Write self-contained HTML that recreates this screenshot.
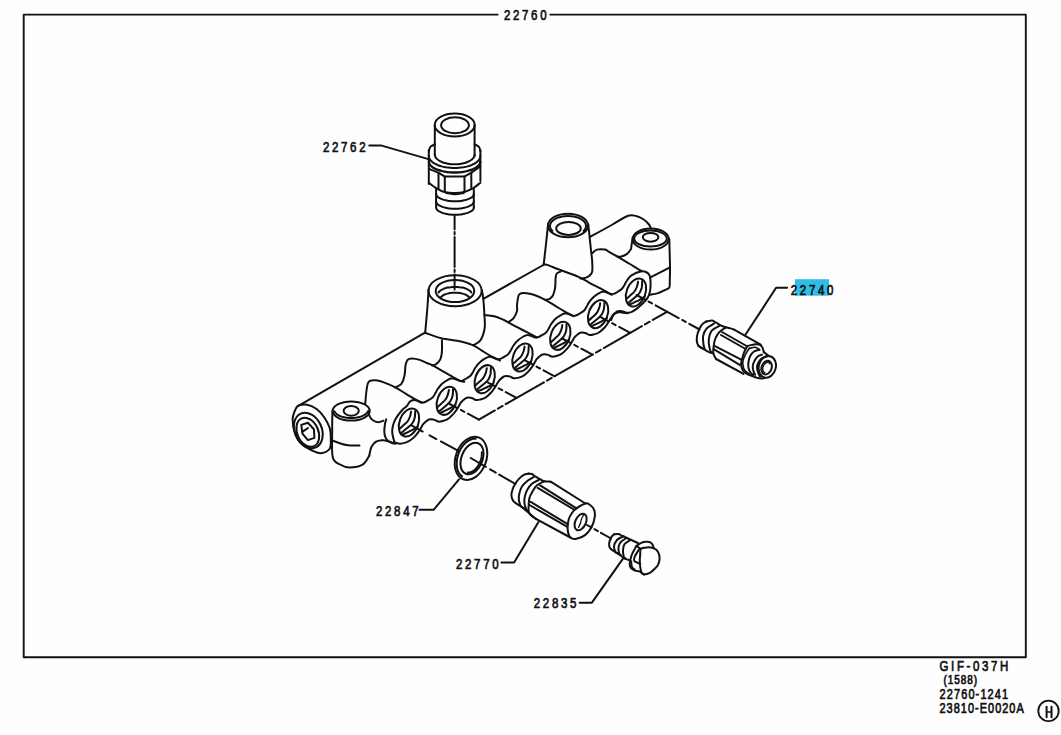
<!DOCTYPE html>
<html><head><meta charset="utf-8">
<style>
html,body{margin:0;padding:0;background:#fefefe;}
body{width:1061px;height:735px;overflow:hidden;position:relative;}
svg{position:absolute;left:0;top:0;}
.t{font-family:"Liberation Sans",sans-serif;font-size:14px;fill:#111;stroke:#111;stroke-width:0.7px;}
.s{font-family:"Liberation Mono",monospace;fill:#111;stroke:#111;stroke-width:0.4px;}
</style></head><body>
<svg width="1061" height="735" viewBox="0 0 1061 735">
<rect x="795" y="279.2" width="34" height="16.5" fill="#30bde8"/>
<g fill="none" stroke="#111" stroke-width="2" stroke-linejoin="round" stroke-linecap="round">
<path d="M497.7 14.6L23.7 14.6L23.7 657.3L1025.8 657.3L1025.8 14.6L550.3 14.6" stroke-width="1.9"/>
<ellipse cx="454.7" cy="125" rx="20" ry="11.4" transform="rotate(0 454.7 125)"/>
<ellipse cx="455" cy="125.2" rx="13.9" ry="8" transform="rotate(0 455 125.2)"/>
<path d="M434.8 125L434.8 155"/>
<path d="M474.6 125L474.6 156"/>
<path d="M474.6 154.5C474.5 154.8 474.5 155.6 474.3 156.2C474.1 156.8 473.8 157.3 473.4 157.9C473 158.4 472.5 158.9 471.9 159.4C471.4 159.9 470.7 160.4 469.9 160.8C469.2 161.2 468.4 161.6 467.5 162C466.6 162.4 465.6 162.7 464.6 163C463.7 163.3 462.6 163.5 461.5 163.7C460.4 163.9 459.3 164.1 458.2 164.2C457 164.2 455.9 164.3 454.7 164.3C453.5 164.3 452.4 164.2 451.2 164.2C450.1 164.1 449 163.9 447.9 163.7C446.8 163.5 445.7 163.3 444.8 163C443.8 162.7 442.8 162.4 441.9 162C441 161.6 440.2 161.2 439.5 160.8C438.7 160.4 438 159.9 437.5 159.4C436.9 158.9 436.4 158.4 436 157.9C435.6 157.3 435.3 156.8 435.1 156.2C434.9 155.6 434.9 154.8 434.8 154.5"/>
<path d="M434.8 144.3C434.1 144.7 431.6 145.6 430.6 146.7C429.6 147.8 429.1 150.3 428.8 151"/>
<path d="M474.6 144.3C475.3 144.7 477.8 145.6 478.8 146.7C479.8 147.8 480.1 150.3 480.4 151"/>
<path d="M428.8 150L428.8 184"/>
<path d="M480.4 150L480.4 181"/>
<path d="M480.4 156C480.3 156.3 480.3 157.4 480 158.1C479.7 158.8 479.4 159.5 478.8 160.1C478.3 160.8 477.7 161.4 476.9 162C476.2 162.6 475.3 163.2 474.4 163.7C473.4 164.2 472.3 164.7 471.2 165.2C470 165.6 468.8 166 467.5 166.4C466.2 166.7 464.8 167 463.4 167.3C462 167.5 460.6 167.7 459.1 167.8C457.6 167.9 456.1 168 454.6 168C453.1 168 451.6 167.9 450.1 167.8C448.6 167.7 447.2 167.5 445.8 167.3C444.4 167 443 166.7 441.7 166.4C440.4 166 439.2 165.6 438 165.2C436.9 164.7 435.8 164.2 434.8 163.7C433.9 163.2 433 162.6 432.3 162C431.5 161.4 430.9 160.8 430.4 160.1C429.8 159.5 429.5 158.8 429.2 158.1C428.9 157.4 428.9 156.3 428.8 156"/>
<path d="M480.3 161.5C480.2 161.8 480.2 162.8 479.9 163.4C479.7 164 479.3 164.7 478.8 165.3C478.2 165.9 477.6 166.4 476.9 167C476.1 167.6 475.2 168.1 474.3 168.6C473.3 169.1 472.3 169.5 471.1 169.9C470 170.3 468.7 170.7 467.5 171C466.2 171.3 464.8 171.6 463.4 171.8C462 172.1 460.5 172.2 459.1 172.3C457.6 172.4 456.1 172.5 454.6 172.5C453.1 172.5 451.6 172.4 450.1 172.3C448.7 172.2 447.2 172.1 445.8 171.8C444.4 171.6 443 171.3 441.8 171C440.5 170.7 439.2 170.3 438.1 169.9C436.9 169.5 435.9 169.1 434.9 168.6C434 168.1 433.1 167.6 432.3 167C431.6 166.4 431 165.9 430.4 165.3C429.9 164.7 429.5 164 429.3 163.4C429 162.8 429 161.8 428.9 161.5" stroke-width="2.3"/>
<path d="M429 168.8L438.8 172.9L444.8 176.6L464.3 176.6L471 172.9L480.3 166.5"/>
<path d="M438.5 172.9L438.5 188.5"/>
<path d="M444.8 176.6L444.8 192"/>
<path d="M464.5 176.6L464.5 191.8"/>
<path d="M471.3 172.9L471.3 188.8"/>
<path d="M428.8 182.7C430 183.6 433.6 186.6 436.2 188.2C438.8 189.8 441.1 191.2 444.3 192C447.5 192.8 451.8 193.2 455.2 193.1C458.6 193 462 192.5 465 191.7C468 190.9 470.6 189.7 473.2 188.2C475.8 186.7 479.2 183.6 480.4 182.7"/>
<path d="M446 193.2C447.5 193.4 452.2 194.6 455.2 194.6C458.2 194.6 462.5 193.4 464 193.2" stroke-width="1.5"/>
<path d="M436.1 188.5L436.1 207.5"/>
<path d="M473.8 188.5L473.8 207.5"/>
<path d="M473.9 194C473.8 194.2 473.8 194.9 473.6 195.3C473.4 195.7 473.1 196.1 472.7 196.5C472.3 196.9 471.9 197.3 471.3 197.7C470.8 198 470.1 198.4 469.4 198.7C468.7 199 468 199.3 467.1 199.6C466.3 199.9 465.4 200.1 464.4 200.3C463.5 200.5 462.5 200.7 461.4 200.9C460.4 201 459.3 201.1 458.3 201.2C457.2 201.3 456.1 201.3 455 201.3C453.9 201.3 452.8 201.3 451.7 201.2C450.7 201.1 449.6 201 448.6 200.9C447.5 200.7 446.5 200.5 445.6 200.3C444.6 200.1 443.7 199.9 442.9 199.6C442 199.3 441.3 199 440.6 198.7C439.9 198.4 439.2 198 438.7 197.7C438.1 197.3 437.7 196.9 437.3 196.5C436.9 196.1 436.6 195.7 436.4 195.3C436.2 194.9 436.2 194.2 436.1 194"/>
<path d="M473.9 201.5C473.8 201.7 473.8 202.4 473.6 202.8C473.4 203.2 473.1 203.6 472.7 204C472.3 204.4 471.9 204.8 471.3 205.2C470.8 205.5 470.1 205.9 469.4 206.2C468.7 206.5 468 206.8 467.1 207.1C466.3 207.4 465.4 207.6 464.4 207.8C463.5 208 462.5 208.2 461.4 208.4C460.4 208.5 459.3 208.6 458.3 208.7C457.2 208.8 456.1 208.8 455 208.8C453.9 208.8 452.8 208.8 451.7 208.7C450.7 208.6 449.6 208.5 448.6 208.4C447.5 208.2 446.5 208 445.6 207.8C444.6 207.6 443.7 207.4 442.9 207.1C442 206.8 441.3 206.5 440.6 206.2C439.9 205.9 439.2 205.5 438.7 205.2C438.1 204.8 437.7 204.4 437.3 204C436.9 203.6 436.6 203.2 436.4 202.8C436.2 202.4 436.2 201.7 436.1 201.5"/>
<path d="M473.9 207.5C473.8 207.7 473.8 208.4 473.6 208.8C473.4 209.2 473.1 209.6 472.7 210C472.3 210.4 471.9 210.8 471.3 211.2C470.8 211.5 470.1 211.9 469.4 212.2C468.7 212.5 468 212.8 467.1 213.1C466.3 213.4 465.4 213.6 464.4 213.8C463.5 214 462.5 214.2 461.4 214.4C460.4 214.5 459.3 214.6 458.3 214.7C457.2 214.8 456.1 214.8 455 214.8C453.9 214.8 452.8 214.8 451.7 214.7C450.7 214.6 449.6 214.5 448.6 214.4C447.5 214.2 446.5 214 445.6 213.8C444.6 213.6 443.7 213.4 442.9 213.1C442 212.8 441.3 212.5 440.6 212.2C439.9 211.9 439.2 211.5 438.7 211.2C438.1 210.8 437.7 210.4 437.3 210C436.9 209.6 436.6 209.2 436.4 208.8C436.2 208.4 436.2 207.7 436.1 207.5"/>
<path d="M454.6 216V289.4" stroke-dasharray="30 2.5 2.5 2.5" stroke-dashoffset="16.5"/>
<path d="M369.3 145.6L381.7 145.6L429.3 159.4"/>
<ellipse cx="455.1" cy="290.7" rx="26.6" ry="15.5" transform="rotate(0 455.1 290.7)"/>
<ellipse cx="455" cy="291" rx="19.3" ry="11" transform="rotate(0 455 291)"/>
<path d="M438.6 292.5C438.7 292.3 439.2 291.7 439.6 291.3C440 290.9 440.5 290.5 441.1 290.1C441.6 289.8 442.3 289.4 443 289.1C443.7 288.8 444.4 288.5 445.2 288.3C446.1 288 446.9 287.8 447.8 287.6C448.7 287.4 449.6 287.3 450.6 287.2C451.6 287 452.5 287 453.5 286.9C454.5 286.9 455.5 286.9 456.5 286.9C457.5 287 458.4 287 459.4 287.2C460.4 287.3 461.3 287.4 462.2 287.6C463.1 287.8 463.9 288 464.8 288.3C465.6 288.5 466.3 288.8 467 289.1C467.7 289.4 468.4 289.8 468.9 290.1C469.5 290.5 470 290.9 470.4 291.3C470.8 291.7 471.3 292.3 471.4 292.5"/>
<path d="M440.9 297.2C441.1 297 441.6 296.4 442 296.1C442.4 295.8 443 295.4 443.5 295.1C444.1 294.8 444.7 294.5 445.4 294.3C446 294 446.7 293.8 447.5 293.6C448.3 293.4 449.1 293.2 449.9 293.1C450.7 293 451.5 292.9 452.4 292.8C453.3 292.7 454.1 292.7 455 292.7C455.9 292.7 456.7 292.7 457.6 292.8C458.5 292.9 459.3 293 460.1 293.1C460.9 293.2 461.7 293.4 462.5 293.6C463.3 293.8 464 294 464.6 294.3C465.3 294.5 465.9 294.8 466.5 295.1C467 295.4 467.6 295.8 468 296.1C468.4 296.4 468.9 297 469.1 297.2"/>
<path d="M428.6 289C428.4 292.5 427.8 302.7 427.2 310C426.6 317.3 425.5 328.9 425.2 332.7"/>
<path d="M481.8 290C482.1 291.5 482.9 294.6 483.3 298.8C483.7 303 484.2 310.1 484.4 315C484.6 319.9 485.4 323.8 484.7 328C484 332.2 482.3 337.5 480.4 340.4C478.4 343.3 474.2 344.5 473 345.3"/>
<path d="M425 332.7C427.7 333.6 435.3 336.8 441.3 338.2C447.3 339.6 455.6 340.2 460.9 341.4C466.2 342.6 469.3 343.6 472.9 345.2C476.5 346.8 479.4 349.2 482.7 351.2C486 353.2 489.6 355.4 492.5 357C495.4 358.6 498.8 359.9 500 360.5"/>
<path d="M299.2 405.3L425 332.7"/>
<path d="M483.3 298.8L544.2 264.5"/>
<path d="M590.5 236.6C594 234.7 605.5 228.5 611.7 225C618 221.5 624 217.3 628 215.8C632 214.3 633.5 215.5 636 216C638.5 216.5 640.8 217.6 643 219C645.2 220.4 647.7 222.9 649 224.5C650.3 226.1 650.7 227.9 651 228.6"/>
<path d="M365.2 403.8C365.4 402 365.8 396.4 366.2 393C366.6 389.6 367.1 385.5 367.8 383.5C368.5 381.5 369 381.3 370.3 380.8C371.6 380.3 373.4 380 375.9 380.3C378.4 380.6 381.9 381.7 385.1 382.9C388.3 384.1 391.8 385.6 395.3 387.4C398.8 389.2 402.4 391.7 406 393.8C409.6 395.9 414.1 398.7 416.7 400.2C419.3 401.7 420.9 402.4 421.8 402.8"/>
<path d="M395.3 387.4C396.3 386.8 399.9 385.8 401.4 383.9C402.9 381.9 403.8 378.8 404.5 375.7C405.2 372.6 405 368.1 405.5 365.5C406 362.9 406.6 361.1 407.6 359.9C408.6 358.7 409.6 358.4 411.6 358.4C413.6 358.4 417.1 359 419.8 359.9C422.5 360.8 425.9 362.6 428 363.5C430.1 364.4 430 364 432.6 365.4C435.2 366.8 439.9 369.5 443.5 371.6C447.1 373.7 451.5 376.3 454.4 377.9C457.3 379.5 459.3 380.5 460.9 381.1C462.5 381.7 463.6 381.6 464.2 381.7"/>
<path d="M441.9 340.3C441.9 342.2 442.2 348.6 441.9 351.8C441.6 355 441.3 357.3 440.3 359.4C439.3 361.5 437.3 363.3 435.9 364.3C434.5 365.3 432.7 365.2 432.1 365.4"/>
<path d="M484.4 315C486 315.2 490.9 315.4 494.1 316.2C497.4 317 501.5 318.9 503.9 320C506.3 321.1 505.5 321 508.6 322.7C511.7 324.4 517.9 327.6 522.6 330C527.3 332.4 534.4 336.1 536.7 337.3"/>
<path d="M508.5 322C509.3 321.4 512 320.2 513.4 318.4C514.8 316.6 516.4 313.2 517 311C517.6 308.8 516.7 307.6 517 305C517.3 302.4 517.9 297.4 518.6 295.5C519.3 293.6 519.9 293.7 521.3 293.3C522.7 292.9 524.6 293 526.8 293.3C529 293.6 531.3 293.9 534.4 295C537.5 296.1 541.7 297.9 545.3 299.8C548.9 301.7 552.4 304.1 556 306.3C559.6 308.5 564.1 311.2 567 312.9C569.9 314.5 572.5 315.6 573.6 316.2"/>
<path d="M560.5 271.6C559.9 271.9 557.6 272.4 556.8 273.5C556 274.6 555.9 275.7 555.6 278.1C555.3 280.5 555.6 285 555.1 287.9C554.6 290.8 553.8 293.7 552.9 295.5C552 297.3 550.9 298.1 549.6 298.8C548.3 299.5 546 299.6 545.3 299.8"/>
<ellipse cx="568" cy="225.5" rx="20" ry="11.8" transform="rotate(0 568 225.5)"/>
<path d="M552.4 231C552.2 230.7 551.4 230 551.1 229.4C550.7 228.9 550.5 228.3 550.3 227.7C550.1 227.2 550 226.6 550 226C550 225.4 550.1 224.8 550.3 224.3C550.5 223.7 550.7 223.1 551.1 222.6C551.4 222 551.9 221.5 552.4 221C552.9 220.5 553.5 220 554.2 219.6C554.9 219.1 555.6 218.7 556.4 218.3C557.2 218 558.1 217.6 559 217.3C559.9 217.1 560.9 216.8 561.8 216.6C562.8 216.4 563.8 216.3 564.9 216.2C565.9 216.1 567 216 568 216C569 216 570.1 216.1 571.1 216.2C572.2 216.3 573.2 216.4 574.2 216.6C575.1 216.8 576.1 217.1 577 217.3C577.9 217.6 578.8 218 579.6 218.3C580.4 218.7 581.1 219.1 581.8 219.6C582.5 220 583.1 220.5 583.6 221C584.1 221.5 584.6 222 584.9 222.6C585.3 223.1 585.5 223.7 585.7 224.3C585.9 224.8 586 225.4 586 226C586 226.6 585.9 227.2 585.7 227.7C585.5 228.3 585.3 228.9 584.9 229.4C584.6 230 583.8 230.7 583.6 231"/>
<ellipse cx="568.5" cy="228.4" rx="12.3" ry="6.5" transform="rotate(0 568.5 228.4)"/>
<path d="M548.1 224C547.8 227.3 546.7 237.3 546 244C545.3 250.7 544.1 260.9 543.7 264.3"/>
<path d="M588.3 224.6C588.7 228.8 590.3 243.6 590.9 249.5C591.5 255.4 591.9 256.4 592.1 260C592.3 263.6 592.7 268.8 592.2 271.4C591.8 274 590.6 274.7 589.4 275.8C588.2 276.9 586.6 277.4 585.1 277.9C583.6 278.4 581.3 278.5 580.5 278.6"/>
<path d="M543.7 264.3C544.2 264.4 544.8 264.2 547 264.9C549.2 265.6 554.4 267.8 556.8 268.7C559.1 269.6 557.5 268.9 561.1 270.3C564.7 271.7 573.8 274.7 578.5 276.8C583.2 278.9 585.3 280.6 589.4 282.8C593.5 285 599.5 287.9 603.2 289.9C606.9 291.9 610.3 294 611.7 294.8"/>
<path d="M592.5 253C593.2 252.4 594.9 250.2 597 249.6C599.1 249 603.1 249.3 605 249.6C606.9 249.9 606.2 250.2 608.1 251.3C610 252.4 613.1 254.2 616.6 256.2C620.1 258.2 624.8 261 629 263.5C633.2 266 639.5 269.8 641.6 271"/>
<path d="M632.6 238C632.4 239.5 631.6 245.1 631.3 247C631 248.9 631.5 248.3 630.7 249.5C629.9 250.7 628.1 253.2 626.4 254.4C624.7 255.6 621.9 256.5 620.3 256.8C618.7 257.1 617.2 256.3 616.6 256.2"/>
<ellipse cx="650.7" cy="239" rx="18" ry="10.6" transform="rotate(0 650.7 239)"/>
<ellipse cx="650.5" cy="238.6" rx="16.3" ry="8" transform="rotate(0 650.5 238.6)"/>
<ellipse cx="650.6" cy="237.3" rx="7.8" ry="4.4" transform="rotate(0 650.6 237.3)"/>
<path d="M669.3 239C669.4 243.6 669.9 259.8 670 266.6C670.1 273.4 669.9 276.5 669.8 280C669.7 283.5 670.1 285.8 669.3 287.5C668.5 289.2 667 289 665 290C663 291 660 292.6 657.4 293.4C654.8 294.2 650.5 294.6 649.1 294.9"/>
<path d="M649.9 277.7L670 267.3"/>
<path d="M394.6 442.6C394.2 441.2 392.9 436.9 392.5 434.5C392.1 432.1 392.1 430.3 392.5 428C392.9 425.7 393.7 423 394.6 420.9C395.5 418.8 396.6 417.2 397.9 415.4C399.2 413.6 400.9 411.5 402.3 410C403.7 408.5 405.2 407.7 406.5 406.3C407.8 404.9 408.8 402.6 410 401.5C411.2 400.4 412.6 400.1 414 400C415.4 399.9 417.4 400.8 418.6 401.2C419.9 401.6 420.5 402.3 421.5 402.5C422.5 402.7 423.3 402.6 424.4 402.2C425.6 401.8 427.2 400.9 428.5 400.1C429.9 399.3 431.5 398.6 432.6 397.4C433.8 396.3 434.5 394.8 435.3 393.3C436.2 391.9 436.7 390.4 437.8 388.8C439 387.2 440.7 385.1 442.3 383.6C444 382.1 446.2 380.7 447.8 379.8C449.4 378.9 450.4 378.4 451.8 378.3C453.3 378.3 455.2 379.1 456.4 379.5C457.7 379.9 458.4 380.7 459.3 380.8C460.3 381 461.1 381 462.3 380.6C463.4 380.2 465 379.3 466.4 378.5C467.7 377.7 469.3 376.9 470.5 375.8C471.6 374.6 472.3 373.1 473.2 371.7C474 370.2 474.5 368.8 475.7 367.2C476.8 365.5 478.5 363.5 480.2 362C481.8 360.5 484.1 359 485.7 358.2C487.2 357.3 488.2 356.7 489.7 356.7C491.1 356.6 493 357.4 494.3 357.9C495.5 358.3 496.2 359 497.2 359.2C498.1 359.3 498.9 359.3 500.1 358.9C501.3 358.5 502.8 357.6 504.2 356.8C505.6 356 507.2 355.2 508.3 354.1C509.4 353 510.1 351.4 511 350C511.9 348.6 512.3 347.1 513.5 345.5C514.7 343.9 516.3 341.8 518 340.3C519.7 338.8 521.9 337.4 523.5 336.5C525.1 335.6 526.1 335 527.5 335C528.9 334.9 530.8 335.8 532.1 336.2C533.3 336.6 534 337.3 535 337.5C536 337.7 536.7 337.6 537.9 337.2C539.1 336.8 540.7 335.9 542 335.1C543.4 334.3 545 333.6 546.1 332.4C547.3 331.3 548 329.8 548.8 328.3C549.7 326.9 550.2 325.4 551.3 323.8C552.5 322.2 554.2 320.1 555.8 318.6C557.5 317.1 559.7 315.7 561.3 314.8C562.9 313.9 563.9 313.4 565.3 313.3C566.8 313.3 568.7 314.1 569.9 314.5C571.2 314.9 571.8 315.6 572.8 315.8C573.8 316 574.6 315.9 575.8 315.5C576.9 315.2 578.5 314.2 579.9 313.4C581.2 312.6 582.8 311.9 583.9 310.8C585.1 309.6 585.8 308.1 586.6 306.6C587.5 305.2 588 303.8 589.1 302.1C590.3 300.5 592 298.4 593.6 296.9C595.3 295.4 597.6 294 599.1 293.1C600.7 292.3 601.7 291.7 603.1 291.6C604.6 291.6 606.5 292.4 607.8 292.8C609 293.3 609.7 294 610.6 294.1C611.6 294.3 612.4 294.3 613.6 293.9C614.8 293.5 616.3 292.6 617.7 291.8C619 291 620.6 290.2 621.8 289.1C622.9 287.9 623.6 286.4 624.5 285C625.3 283.5 625.8 282.1 627 280.5C628.1 278.9 629.2 276.8 631.5 275.3C633.8 273.8 638.3 271.8 640.9 271.4C643.4 270.9 645.4 271.7 646.9 272.5C648.4 273.3 649.3 274.3 649.9 276.2C650.5 278 650.6 281.1 650.6 283.7C650.6 286.3 650.4 289.5 649.9 291.9C649.4 294.2 648.7 296 647.6 297.9C646.4 299.7 644.8 301.3 643.1 303.1C641.3 304.8 639.2 306.9 637.2 308.4C635.2 309.9 633.2 311.3 631.2 312.1C629.2 312.8 627.3 312.9 625.2 312.9C623.1 312.9 619.6 312.2 618.5 312.1"/>
<path d="M618.5 312.1C617.7 312.5 615.2 313.1 614 314.4C612.7 315.7 611.5 319 611 320"/>
<path d="M394.6 442.6C395.5 442.8 398.3 443.7 400.1 443.7C401.9 443.7 403.9 443.1 405.5 442.6C407.1 442.1 408.3 441.6 409.9 440.5C411.5 439.4 413.6 437.7 415.2 436.1C416.8 434.5 417.9 432.7 419.3 430.7C420.7 428.7 421.9 425.7 423.4 423.9C424.9 422.1 426.8 420.6 428.1 419.8C429.4 419 430.1 419.2 431.2 419.2C432.3 419.3 433.5 419.5 434.6 419.9C435.8 420.3 436.9 421.4 438.1 421.6C439.4 421.8 440.5 421.6 442.1 421.2C443.7 420.8 445.8 420.4 447.6 419.2C449.4 418.1 451.4 416.1 453 414.4C454.6 412.7 455.8 411.1 457.1 409C458.5 407 459.8 404 461.2 402.2C462.7 400.4 464.6 398.9 465.9 398.1C467.2 397.4 468 397.5 469.1 397.6C470.1 397.6 471.3 397.9 472.5 398.3C473.6 398.7 474.7 399.7 476 400C477.2 400.2 478.4 400 480 399.6C481.5 399.2 483.6 398.7 485.5 397.6C487.3 396.4 489.3 394.5 490.9 392.8C492.4 391.1 493.6 389.4 495 387.4C496.3 385.3 497.6 382.4 499.1 380.6C500.5 378.7 502.5 377.2 503.8 376.5C505.1 375.7 505.8 375.9 506.9 375.9C508 375.9 509.1 376.2 510.3 376.6C511.4 377 512.5 378.1 513.8 378.3C515 378.5 516.2 378.3 517.8 377.9C519.4 377.5 521.5 377 523.3 375.9C525.1 374.8 527.1 372.8 528.7 371.1C530.3 369.4 531.4 367.7 532.8 365.7C534.2 363.7 535.4 360.7 536.9 358.9C538.4 357.1 540.3 355.6 541.6 354.8C542.9 354 543.6 354.2 544.7 354.2C545.8 354.2 547 354.5 548.1 354.9C549.3 355.3 550.4 356.4 551.6 356.6C552.9 356.8 554 356.6 555.6 356.2C557.2 355.8 559.3 355.4 561.1 354.2C562.9 353.1 564.9 351.1 566.5 349.4C568.1 347.7 569.3 346.1 570.6 344C572 342 573.3 339 574.7 337.2C576.2 335.4 578.1 333.9 579.4 333.1C580.7 332.3 581.5 332.5 582.5 332.5C583.6 332.6 584.8 332.9 585.9 333.2C587.1 333.6 588.2 334.7 589.4 334.9C590.7 335.2 591.9 334.9 593.4 334.5C595 334.1 597.1 333.7 598.9 332.5C600.8 331.4 602.8 329.4 604.4 327.8C605.9 326.1 607.1 324.4 608.4 322.3C609.8 320.3 611.1 317.4 612.5 315.5C614 313.7 615.9 312.2 617.2 311.4C618.6 310.7 619.3 310.9 620.4 310.9C621.5 310.9 622.6 311.2 623.8 311.6C624.9 312 626.7 313 627.3 313.3"/>
<ellipse cx="409" cy="422.5" rx="9.4" ry="14.6" transform="rotate(21 409 422.5)"/>
<path d="M411.1 411.6C410.9 412.4 410.6 414.9 410 416.5C409.4 418.1 408.6 420.1 407.5 421.5C406.4 422.9 405 423.9 403.7 425.1C402.4 426.3 400.4 428 399.8 428.6"/>
<path d="M415.2 411C415.1 412.1 415.2 415.5 414.8 417.5C414.4 419.5 413.6 421.4 412.5 423C411.4 424.6 410.2 425.5 408.4 427.1C406.6 428.7 402.7 431.8 401.6 432.7"/>
<path d="M417.6 426.8C416.8 427.3 414.4 428.8 412.5 429.8C410.6 430.8 408.2 432 406.5 432.8C404.8 433.6 403.2 434.2 402.5 434.5"/>
<ellipse cx="446.8" cy="400.8" rx="9.4" ry="14.6" transform="rotate(21 446.8 400.8)"/>
<path d="M448.9 389.9C448.7 390.7 448.4 393.2 447.8 394.8C447.2 396.5 446.4 398.4 445.3 399.8C444.3 401.3 442.8 402.2 441.5 403.4C440.2 404.6 438.3 406.3 437.6 406.9"/>
<path d="M453 389.3C453 390.4 453.1 393.8 452.6 395.8C452.2 397.8 451.4 399.7 450.3 401.3C449.3 402.9 448 403.8 446.2 405.4C444.4 407 440.6 410.1 439.4 411"/>
<path d="M455.4 405.1C454.6 405.6 452.2 407.1 450.3 408.1C448.5 409.1 446 410.3 444.3 411.1C442.7 411.9 441 412.5 440.3 412.8"/>
<ellipse cx="484.7" cy="379.2" rx="9.4" ry="14.6" transform="rotate(21 484.7 379.2)"/>
<path d="M486.8 368.3C486.6 369.1 486.3 371.5 485.7 373.2C485.1 374.8 484.2 376.7 483.2 378.2C482.1 379.6 480.6 380.6 479.4 381.8C478.1 382.9 476.1 384.7 475.5 385.3"/>
<path d="M490.9 367.7C490.8 368.7 490.9 372.2 490.5 374.2C490 376.2 489.2 378.1 488.2 379.7C487.1 381.3 485.9 382.1 484.1 383.8C482.2 385.4 478.4 388.4 477.3 389.4"/>
<path d="M493.3 383.5C492.4 384 490 385.5 488.2 386.5C486.3 387.5 483.8 388.7 482.2 389.5C480.5 390.2 478.8 390.9 478.2 391.2"/>
<ellipse cx="522.5" cy="357.5" rx="9.4" ry="14.6" transform="rotate(21 522.5 357.5)"/>
<path d="M524.6 346.6C524.4 347.4 524.1 349.8 523.5 351.5C522.9 353.1 522 355.1 521 356.5C519.9 357.9 518.5 358.9 517.2 360.1C515.9 361.3 513.9 363 513.3 363.6"/>
<path d="M528.7 346C528.6 347.1 528.7 350.5 528.3 352.5C527.8 354.5 527.1 356.4 526 358C524.9 359.6 523.7 360.5 521.9 362.1C520.1 363.7 516.2 366.8 515.1 367.7"/>
<path d="M531.1 361.8C530.2 362.3 527.8 363.8 526 364.8C524.1 365.8 521.7 367 520 367.8C518.3 368.6 516.7 369.2 516 369.5"/>
<ellipse cx="560.3" cy="335.8" rx="9.4" ry="14.6" transform="rotate(21 560.3 335.8)"/>
<path d="M562.4 324.9C562.2 325.7 561.9 328.2 561.3 329.8C560.7 331.5 559.9 333.4 558.8 334.8C557.8 336.3 556.3 337.2 555 338.4C553.7 339.6 551.8 341.3 551.1 341.9"/>
<path d="M566.5 324.3C566.5 325.4 566.6 328.8 566.1 330.8C565.7 332.8 564.9 334.7 563.8 336.3C562.8 337.9 561.5 338.8 559.7 340.4C557.9 342 554.1 345.1 552.9 346"/>
<path d="M568.9 340.1C568.1 340.6 565.7 342.1 563.8 343.1C562 344.1 559.5 345.3 557.8 346.1C556.2 346.9 554.5 347.5 553.8 347.8"/>
<ellipse cx="598.1" cy="314.1" rx="9.4" ry="14.6" transform="rotate(21 598.1 314.1)"/>
<path d="M600.2 303.2C600.1 304.1 599.8 306.5 599.1 308.1C598.5 309.8 597.7 311.7 596.6 313.1C595.6 314.6 594.1 315.6 592.9 316.8C591.6 317.9 589.6 319.7 588.9 320.2"/>
<path d="M604.4 302.6C604.3 303.7 604.4 307.1 603.9 309.1C603.5 311.1 602.7 313 601.6 314.6C600.6 316.2 599.4 317.1 597.5 318.8C595.7 320.4 591.9 323.4 590.8 324.3"/>
<path d="M606.8 318.4C605.9 318.9 603.5 320.4 601.6 321.4C599.8 322.4 597.3 323.7 595.6 324.4C594 325.2 592.3 325.9 591.6 326.1"/>
<ellipse cx="636" cy="292.5" rx="9.4" ry="14.6" transform="rotate(21 636 292.5)"/>
<path d="M638.1 281.6C637.9 282.4 637.6 284.8 637 286.5C636.4 288.1 635.5 290 634.5 291.5C633.4 292.9 632 293.9 630.7 295.1C629.4 296.3 627.4 298 626.8 298.6"/>
<path d="M642.2 281C642.1 282.1 642.2 285.5 641.8 287.5C641.3 289.5 640.5 291.4 639.5 293C638.4 294.6 637.2 295.5 635.4 297.1C633.6 298.7 629.7 301.7 628.6 302.7"/>
<path d="M644.6 296.8C643.7 297.3 641.3 298.8 639.5 299.8C637.6 300.8 635.1 302 633.5 302.8C631.8 303.6 630.1 304.2 629.5 304.5"/>
<path d="M299.2 405.3C301.1 404.7 304.4 404.1 307.3 404.7C310.2 405.3 313.8 406.9 316.6 409C319.4 411.1 322 414 324.2 417.2C326.4 420.4 328.6 424.4 329.7 428C330.8 431.6 330.8 435.5 330.8 439C330.8 442.5 331.3 446.4 329.7 448.8C328.1 451.2 323.9 452.9 321 453.2C318.1 453.5 315.3 451.9 312.2 450.5C309.1 449.1 305.2 447.3 302.4 444.5C299.6 441.7 296.9 437.8 295.3 433.6C293.7 429.4 292.5 423.6 292.6 419.4C292.7 415.2 294.8 410.9 295.9 408.5C297 406.1 297.3 405.9 299.2 405.3Z"/>
<ellipse cx="308.3" cy="430.5" rx="13.5" ry="18.5" transform="rotate(-24 308.3 430.5)"/>
<ellipse cx="307.8" cy="432.3" rx="10.5" ry="15.2" transform="rotate(-24 307.8 432.3)"/>
<path d="M301.3 424.9L307.9 422.7L313.9 429.2L314.4 437.9L307.9 440.1L302.4 433.6Z"/>
<path d="M303 431.4L308 428"/>
<ellipse cx="351.2" cy="411" rx="18.5" ry="9.6" transform="rotate(0 351.2 411)"/>
<path d="M367.9 411.4C367.8 411.6 367.5 412.3 367.2 412.7C366.8 413.2 366.4 413.6 365.9 414C365.4 414.4 364.9 414.8 364.2 415.1C363.6 415.5 362.9 415.8 362.1 416.1C361.4 416.4 360.6 416.7 359.7 416.9C358.8 417.2 357.9 417.4 357 417.5C356.1 417.7 355.1 417.8 354.2 417.9C353.2 418 352.2 418 351.2 418C350.2 418 349.2 418 348.2 417.9C347.3 417.8 346.3 417.7 345.4 417.5C344.5 417.4 343.6 417.2 342.7 416.9C341.8 416.7 341 416.4 340.3 416.1C339.5 415.8 338.8 415.5 338.2 415.1C337.5 414.8 337 414.4 336.5 414C336 413.6 335.6 413.2 335.2 412.7C334.9 412.3 334.6 411.6 334.5 411.4"/>
<ellipse cx="351.2" cy="410.8" rx="7.6" ry="4.9" transform="rotate(0 351.2 410.8)"/>
<path d="M332.4 411C332.4 414.2 332.1 422.3 332.2 430C332.2 437.7 331.4 451.2 332.7 457C334 462.8 337.2 462.8 340 464.5C342.8 466.2 345.8 467.4 349.6 467.4C353.4 467.4 359.3 466.5 362.6 464.6C365.9 462.7 368.1 457.3 369.2 455.9"/>
<path d="M369.2 455.9C369.6 454.4 370.2 449.5 371.3 447.2C372.4 444.9 373.9 443 375.7 441.8C377.5 440.6 380.4 440.4 382.2 440.2C384 440 384.8 440.2 386.6 440.7C388.4 441.1 392 442.5 393.1 442.9"/>
<path d="M332.7 440.7C335 441.4 341.9 444.2 346.3 445C350.8 445.8 357.2 445.5 359.4 445.6"/>
<path d="M368.8 411C368.9 411.8 368.6 414.1 369.3 415.6C370 417.2 371.4 419.2 372.9 420.3C374.4 421.4 376.6 422.1 378.3 422.2C380 422.3 382.5 421 383.3 420.8"/>
<path d="M386.2 419.2C386 420.1 385.2 422.6 384.9 424.7C384.6 426.8 384.2 429.7 384.3 431.8C384.4 433.9 384.8 435.7 385.4 437.2C386 438.7 386.9 440 388.1 441C389.3 442 391.2 442.8 392.5 443.2C393.8 443.6 395.2 443.6 395.7 443.7"/>
<path d="M411 425.2L458.8 451.2" stroke-dasharray="13.3 7.8 7.8 5.1 40" stroke-dashoffset="0"/>
<path d="M470.7 458L515.4 484" stroke-dasharray="17.5 5 6.5 4 40" stroke-dashoffset="0"/>
<path d="M587 525L611 538.5" stroke-dasharray="5 3.5 4 3.5 20" stroke-dashoffset="0"/>
<path d="M478.9 419.6L667 311.8" stroke-dasharray="44 3.5 5.5 3.5" stroke-dashoffset="25.6"/>
<path d="M448.8 403.5L478.9 419.6" stroke-dasharray="26.4 4 4 4" stroke-dashoffset="16.8"/>
<path d="M486.7 381.9L516.7 397.9" stroke-dasharray="26.4 4 4 4" stroke-dashoffset="16.8"/>
<path d="M524.5 360.2L554.6 376.3" stroke-dasharray="26.4 4 4 4" stroke-dashoffset="16.8"/>
<path d="M562.3 338.5L592.4 354.6" stroke-dasharray="26.4 4 4 4" stroke-dashoffset="16.8"/>
<path d="M600.1 316.8L630.2 332.9" stroke-dasharray="26.4 4 4 4" stroke-dashoffset="16.8"/>
<path d="M636.6 295L699.6 329.5" stroke-dasharray="26.4 4 4 4" stroke-dashoffset="16.8"/>
<ellipse cx="471" cy="458.3" rx="15.3" ry="22.3" transform="rotate(20 471 458.3)"/>
<path d="M462 476.3C461.7 476 460.7 475.3 460.2 474.7C459.7 474 459.2 473.3 458.7 472.5C458.3 471.8 457.9 470.9 457.6 470C457.4 469.1 457.1 468.1 457 467.1C456.8 466.1 456.7 465 456.7 463.9C456.7 462.8 456.8 461.7 456.9 460.5C457 459.4 457.2 458.3 457.5 457.1C457.8 456 458.1 454.9 458.5 453.8C458.9 452.6 459.4 451.5 459.9 450.5C460.4 449.5 461 448.4 461.6 447.5C462.3 446.6 462.9 445.6 463.6 444.8C464.4 444 465.1 443.2 465.9 442.6C466.7 441.9 467.5 441.3 468.3 440.8C469.1 440.3 469.9 439.8 470.8 439.5C471.6 439.2 472.4 438.9 473.2 438.8C474.1 438.7 475.3 438.7 475.7 438.7"/>
<ellipse cx="472" cy="458.5" rx="10.5" ry="16.5" transform="rotate(22 472 458.5)"/>
<path d="M481.8 452.2C481.8 452.6 481.9 453.7 481.8 454.5C481.8 455.3 481.7 456.1 481.6 456.9C481.4 457.7 481.2 458.5 481 459.4C480.8 460.2 480.5 461 480.2 461.8C479.8 462.6 479.5 463.4 479.1 464.1C478.7 464.9 478.2 465.6 477.8 466.3C477.3 467 476.8 467.6 476.3 468.2C475.8 468.8 475.2 469.4 474.7 469.8C474.1 470.3 473.6 470.8 473 471.1C472.4 471.5 471.8 471.8 471.3 472C470.7 472.3 470.1 472.4 469.6 472.5C469 472.6 468.2 472.6 468 472.6"/>
<path d="M459 479.3L433.6 509.8L419.5 509.8"/>
<path d="M576.5 508.3C578.7 506.8 583.2 504.1 585.4 503.5C587.6 502.9 588.3 503.7 589.8 504.8C591.3 505.9 593.4 508 594.2 510.1C595 512.2 595.1 514.4 594.7 517.2C594.3 520 593.2 524 591.6 526.9C590 529.8 587.9 532.9 585.4 534.9C582.9 536.9 579 538.4 576.5 538.8C574 539.2 571.9 539 570.4 537.5C568.9 536 568 532.6 567.7 529.6C567.4 526.6 567.9 522.6 568.6 519.8C569.3 517 570.8 514.6 572.1 512.7C573.4 510.8 574.3 509.8 576.5 508.3Z"/>
<ellipse cx="580.6" cy="522" rx="5.3" ry="8.8" transform="rotate(25 580.6 522)"/>
<path d="M583.5 515C583.2 515.7 582 517.7 581.5 519C581 520.3 581 521.6 580.5 523C580 524.4 578.8 526.8 578.5 527.5" stroke-width="1.3"/>
<path d="M528.7 473.6C527.9 473.8 525.4 473.9 523.8 474.8C522.2 475.7 520.4 477.3 518.9 478.9C517.4 480.5 515.9 482.7 514.8 484.6C513.7 486.5 512.8 488.4 512.3 490.3C511.7 492.2 511.3 494.2 511.5 496C511.7 497.8 512.2 499.5 513.2 500.9C514.2 502.3 515.9 503.2 517.2 504.2C518.6 505.1 519.5 505.5 521.3 506.6C523.1 507.7 526.8 510 527.9 510.7"/>
<path d="M528.7 473.6C529.2 473.7 530.8 473.5 531.9 474C533 474.5 533.7 475.4 535.2 476.4C536.7 477.3 539.4 478.9 540.9 479.7C542.4 480.5 542.6 481 544.2 481.3C545.8 481.6 549.6 481.6 550.7 481.7"/>
<path d="M550.7 481.7L585.4 503.5"/>
<path d="M533.6 477.2C532.6 477.8 529.8 479 527.9 480.5C526 482 523.5 484 522.1 486.2C520.7 488.4 519.8 491.3 519.3 493.6C518.8 495.9 518.7 498.1 518.9 500.1C519.1 502.1 520.2 504.9 520.5 505.8"/>
<path d="M539.3 479.7C538.1 480.4 533.9 482 531.9 483.8C529.9 485.6 528.2 488 527 490.3C525.8 492.6 525 495.4 524.6 497.7C524.2 500 524.3 502.3 524.6 504.2C524.9 506.1 525.9 508.3 526.2 509.1"/>
<path d="M544.2 481.3C543 482 538.7 483.8 536.8 485.4C534.9 487 534 489.1 532.8 491.1C531.6 493.2 530.2 495.5 529.5 497.7C528.8 499.9 528.8 501.9 528.7 504.2C528.6 506.5 528.3 509.6 528.7 511.5C529.1 513.4 529.9 514.4 531.1 515.6C532.3 516.8 535.2 518.4 536 518.9"/>
<path d="M540.1 485.4L576.5 508.3"/>
<path d="M537.7 487.9L574 509.5"/>
<path d="M530.3 501.7L567.7 524.2"/>
<path d="M529.5 505L567.3 526.9"/>
<path d="M536 518.9L570.4 537.5"/>
<path d="M521.3 506.6L536 518.9"/>
<path d="M538.5 522.1L514.1 562.6L501.4 562.6"/>
<path d="M640.9 548.9C642 547.6 644.8 547.5 646.9 547.4C649 547.3 651.7 547.5 653.6 548.2C655.5 549 657.1 550.1 658.1 551.9C659.1 553.6 659.6 556.6 659.6 558.7C659.6 560.8 658.9 563 658.1 564.6C657.4 566.2 656.5 567 655.1 568.4C653.7 569.8 651.8 571.9 649.9 572.9C648 573.9 645.3 574.4 643.9 574.4C642.5 574.4 642.2 574.1 641.6 572.9C641 571.6 640.5 569 640.2 566.9C639.9 564.8 639.8 562.2 639.8 560.2C639.8 558.2 640 556.8 640.2 554.9C640.4 553 639.8 550.1 640.9 548.9Z"/>
<path d="M636.4 546C637 545.5 638.7 544 640.2 543.3C641.7 542.6 643.8 542 645.4 541.8C647 541.6 648.6 541.6 649.9 542.2C651.1 542.8 652.3 544.2 652.9 545.2C653.5 546.2 653.5 547.7 653.6 548.2"/>
<path d="M639.4 548.9C638.6 550.1 635.8 554.4 634.9 556.4C634 558.4 633.3 559.6 634.2 560.9C635.1 562.1 639.2 563.4 640.2 563.9"/>
<path d="M636.4 546L640.9 548.9"/>
<path d="M636.4 546C635.8 547.1 633.7 550.5 632.7 552.7C631.7 554.9 630.9 557.4 630.4 559.4C629.9 561.4 629.6 563.1 629.7 564.6C629.8 566.1 630.3 567.4 631.2 568.4C632.1 569.4 633.5 570.1 634.9 570.6C636.3 571.1 637.9 570.8 639.4 571.4C640.9 572 643.1 573.9 643.9 574.4"/>
<path d="M631.2 561.6C631.3 562.5 631.3 565.5 631.9 566.9C632.5 568.3 634.4 569.4 634.9 569.9"/>
<path d="M614 534.3C614.8 534.2 617 533.7 618.5 534C620 534.3 619.8 534.7 623 536.2C626.2 537.7 635.4 541.9 637.9 543"/>
<path d="M614 534.3C613.5 534.9 611.8 536.1 611 537.7C610.2 539.3 609.2 542 609.1 543.7C609 545.5 609.4 547 610.2 548.2C611 549.5 612.8 550.3 614 551.2C615.2 552.1 617.1 553 617.7 553.4"/>
<path d="M623.7 536.2C622.6 536.8 618.6 538.2 617 540C615.4 541.8 614.2 544.7 614 546.7C613.8 548.7 614.9 550.8 615.5 551.9C616.1 553 617.3 553.1 617.7 553.4"/>
<path d="M626.7 537.7C625.7 538.5 622.1 540.6 620.7 542.2C619.3 543.8 618.8 545.5 618.5 547.4C618.2 549.3 618.8 552.1 619.2 553.4C619.6 554.6 620.5 554.6 620.7 554.9"/>
<path d="M630.4 540C629.4 540.7 625.6 542.7 624.4 544.4C623.2 546.1 623.1 548.4 623 550.4C622.9 552.4 623.3 555 623.7 556.4C624.1 557.8 625 558.3 625.2 558.7"/>
<path d="M617.7 553.4C619 554.3 623.1 557.5 625.2 558.7C627.3 559.9 629.5 560.1 630.4 560.4"/>
<path d="M623 558.7L591.9 602.7L579.7 602.7"/>
<path d="M706.3 321.4C705.6 321.9 703.4 322.9 702.2 324.3C701 325.7 699.9 327.5 699 329.6C698.1 331.7 697.2 334.6 696.9 336.9C696.6 339.2 696.7 341.7 697.3 343.5C697.9 345.3 699.5 346.7 700.6 347.6C701.7 348.6 703.4 348.9 703.9 349.2"/>
<path d="M706.3 321.4C707.2 321.3 710.5 320.5 712 320.6C713.5 320.7 713.5 321.2 715.3 322.2C717.1 323.1 720.1 325.3 722.7 326.3C725.3 327.3 728.9 327.8 730.8 328.4C732.7 328.9 733.5 329.4 734.1 329.6"/>
<path d="M734.1 329.6L760.7 344.7"/>
<path d="M714.1 323.5C712.8 324.4 708.1 326.7 706.3 328.8C704.5 330.9 703.6 333.5 703.1 336.1C702.6 338.7 703.2 342.1 703.5 344.3C703.8 346.5 704.5 348.4 704.7 349.2"/>
<path d="M719.4 325.9C718.2 326.6 713.8 328.1 712 330.4C710.2 332.6 709.2 336.4 708.8 339.4C708.4 342.4 709.2 346.2 709.6 348.4C710 350.6 710.9 351.7 711.2 352.4"/>
<path d="M725.9 327.6C724.8 328.3 721.2 330.2 719.4 332C717.6 333.8 716.2 336.3 715.3 338.6C714.3 340.9 714 343.4 713.7 345.9C713.4 348.3 712.9 351.1 713.3 353.3C713.7 355.5 715.6 358.1 716.1 359"/>
<path d="M698.2 345.9C699.2 346.4 702 348.1 703.9 349.2C705.8 350.3 708 351.7 709.6 352.4C711.2 353.1 712.7 353.1 713.3 353.3"/>
<path d="M722 332L747.5 346.5"/>
<path d="M721 335L745.7 349"/>
<path d="M714.5 345.9L741.2 359.7"/>
<path d="M713.7 349.2L739.7 364.9"/>
<path d="M716.1 359L743.5 373.9"/>
<path d="M747.2 346C746.7 347 745 350.1 744.2 352.1C743.4 354.2 742.8 356.4 742.3 358.3C741.8 360.2 741.1 362 741.1 363.8C741.1 365.6 741.6 367.8 742.3 369.3C743 370.8 744.3 372.1 745.4 373C746.5 373.9 748.5 374.5 749.1 374.8"/>
<path d="M747.2 346C748.5 345.7 753.1 344.4 755.2 344.2C757.4 344 758.9 344.2 760.1 344.8C761.3 345.4 762 346.7 762.6 347.9C763.2 349.1 763.6 351.4 763.8 352.1"/>
<path d="M749.1 348.5C748.5 349.5 746.4 352.6 745.4 354.6C744.4 356.6 743.4 358.9 743 360.7C742.6 362.5 742.7 364 743 365.6C743.3 367.2 743.8 369.2 744.8 370.5C745.8 371.8 748.4 373.1 749.1 373.6" stroke-width="1.6"/>
<path d="M749.1 348.5C750.1 348.3 753.5 347 755.2 347.2C756.9 347.4 758.8 349.3 759.5 349.7" stroke-width="1.6"/>
<path d="M759.5 349.7C758.6 350 755.5 350.5 754 351.5C752.5 352.5 751.2 354.1 750.3 355.8C749.4 357.5 748.8 359.8 748.5 361.9C748.2 363.9 748.1 366.2 748.5 368.1C748.9 370 750.1 371.9 750.9 373C751.7 374.1 753 374.5 753.4 374.8"/>
<path d="M762 354.6C761.3 354.9 758.9 355.4 757.7 356.4C756.5 357.4 755.4 359.2 754.6 360.7C753.8 362.2 753 363.9 752.8 365.6C752.6 367.3 753 369.6 753.4 371.1C753.8 372.6 754.9 374.2 755.2 374.8"/>
<path d="M768.1 355.8C767.1 356.2 763.5 357.2 761.9 358.3C760.3 359.4 759.1 361.1 758.3 362.6C757.5 364.1 757 365.8 757 367.5C757 369.2 757.8 371.5 758.3 373C758.8 374.5 759.8 376 760.1 376.6"/>
<path d="M763.8 352.1L769.3 356.2"/>
<path d="M749.1 374.8C750.2 375.2 754 376.9 756 377.5C758 378.1 760 378.5 761.4 378.6C762.8 378.7 763.9 378 764.4 377.9"/>
<ellipse cx="767.3" cy="366.8" rx="8.5" ry="11" transform="rotate(15 767.3 366.8)"/>
<ellipse cx="766.6" cy="367.6" rx="5" ry="7" transform="rotate(20 766.6 367.6)"/>
<path d="M764.8 372.7C764.7 372.6 764.4 372.5 764.2 372.4C764 372.3 763.9 372.1 763.7 371.9C763.6 371.8 763.4 371.6 763.3 371.4C763.2 371.2 763.1 370.9 763 370.7C762.9 370.5 762.9 370.2 762.8 369.9C762.8 369.6 762.8 369.4 762.7 369.1C762.7 368.8 762.8 368.5 762.8 368.2C762.8 367.9 762.9 367.6 762.9 367.3C763 367 763.1 366.7 763.2 366.4C763.3 366.1 763.4 365.8 763.6 365.5C763.7 365.2 763.9 365 764.1 364.7C764.2 364.5 764.4 364.2 764.6 364C764.8 363.8 765 363.6 765.2 363.4C765.4 363.2 765.6 363.1 765.8 362.9C766.1 362.8 766.3 362.7 766.5 362.6C766.7 362.5 767 362.4 767.2 362.4C767.4 362.4 767.6 362.4 767.8 362.4C768 362.4 768.3 362.5 768.4 362.5C768.6 362.6 768.8 362.7 769 362.8C769.2 362.9 769.3 363.1 769.5 363.3C769.6 363.4 769.8 363.7 769.9 363.8" stroke-width="1.4"/>
<path d="M744.9 335.5L776.1 287.8L787.1 287.8"/>
<circle cx="1048.5" cy="710.9" r="10.2" stroke-width="1.8"/>
<path d="M1046.6 706.8L1046.6 717.3"/>
<path d="M1051.5 706.8L1051.5 717.3"/>
<path d="M1046.6 712L1051.5 712" stroke-width="1.6"/>
</g>
<g transform="translate(503.9,20) scale(0.82,1)"><text class="t" x="0" y="0" textLength="52" lengthAdjust="spacing">22760</text></g>
<g transform="translate(322.9,152.2) scale(0.82,1)"><text class="t" x="0" y="0" textLength="52" lengthAdjust="spacing">22762</text></g>
<g transform="translate(790.8,295.3) scale(0.82,1)"><text class="t" x="0" y="0" textLength="52" lengthAdjust="spacing">22740</text></g>
<g transform="translate(376.0,515.6) scale(0.82,1)"><text class="t" x="0" y="0" textLength="52" lengthAdjust="spacing">22847</text></g>
<g transform="translate(456.0,568.5) scale(0.82,1)"><text class="t" x="0" y="0" textLength="52" lengthAdjust="spacing">22770</text></g>
<g transform="translate(533.8,608.3) scale(0.82,1)"><text class="t" x="0" y="0" textLength="52" lengthAdjust="spacing">22835</text></g>
<g transform="translate(939.5,671) scale(0.82,1)"><text class="t" x="0" y="0" textLength="84" lengthAdjust="spacing">GIF-037H</text></g>
<g transform="translate(943.5,684) scale(0.8,1)"><text class="t" x="0" y="0" style="font-size:12.5px" textLength="42" lengthAdjust="spacing">(1588)</text></g>
<g transform="translate(939.5,698.6) scale(0.78,1)"><text class="t" x="0" y="0" textLength="88" lengthAdjust="spacing">22760-1241</text></g>
<g transform="translate(939.5,712.6) scale(0.78,1)"><text class="t" x="0" y="0" textLength="108" lengthAdjust="spacing">23810-E0020A</text></g>
</svg>
</body></html>
